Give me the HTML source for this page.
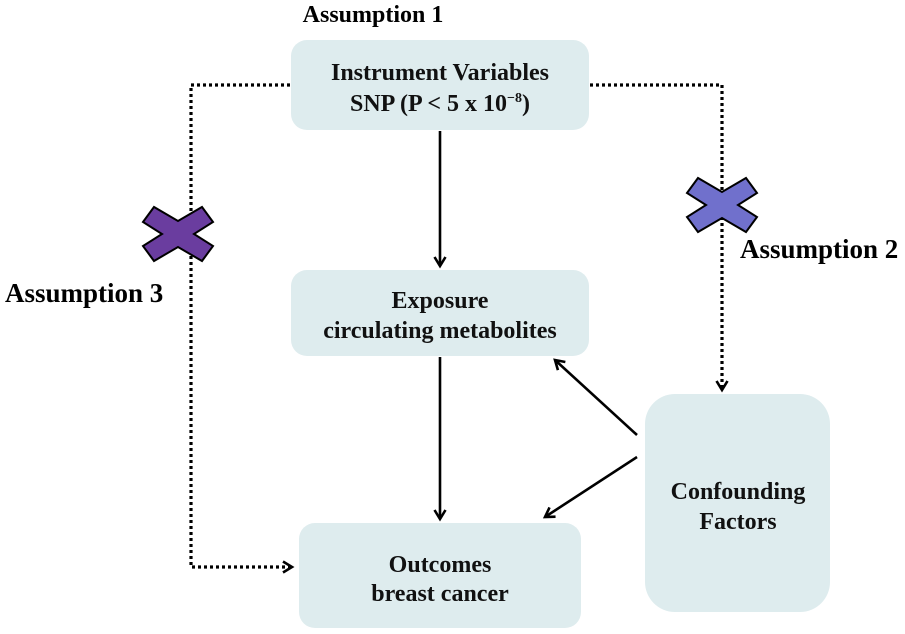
<!DOCTYPE html>
<html><head><meta charset="utf-8"><style>
html,body{margin:0;padding:0;background:#fff;}
svg{display:block;font-family:"Liberation Serif",serif;font-weight:bold;}
</style></head><body>
<svg width="905" height="634" viewBox="0 0 905 634" xmlns="http://www.w3.org/2000/svg">
<defs>
<marker id="a" markerWidth="14" markerHeight="14" refX="11" refY="7" orient="auto" markerUnits="userSpaceOnUse">
<path d="M2,1.5 L11,7 L2,12.5" fill="none" stroke="#000" stroke-width="2.6"/></marker>
</defs>
<rect x="291" y="40" width="298" height="90" rx="16" fill="#deecee"/>
<rect x="291" y="270" width="298" height="86" rx="16" fill="#deecee"/>
<rect x="299" y="523" width="282" height="105" rx="16" fill="#deecee"/>
<rect x="645" y="394" width="185" height="218" rx="30" fill="#deecee"/>

<g fill="#111" text-anchor="middle" font-size="24">
<text x="440" y="80">Instrument Variables</text>
<text x="440" y="111">SNP (P &lt; 5  x 10<tspan font-size="14" dy="-9">−8</tspan><tspan dy="9">)</tspan></text>
<text x="440" y="308">Exposure</text>
<text x="440" y="338">circulating metabolites</text>
<text x="440" y="572">Outcomes</text>
<text x="440" y="601">breast cancer</text>
<text x="738" y="499">Confounding</text>
<text x="738" y="529">Factors</text>
</g>
<g fill="#000">
<text x="373" y="22" font-size="24" text-anchor="middle">Assumption 1</text>
<text x="740" y="258" font-size="27">Assumption 2</text>
<text x="5" y="302" font-size="27">Assumption 3</text>
</g>

<g stroke="#000" stroke-width="2.6" fill="none">
<line x1="440" y1="131" x2="440" y2="266" marker-end="url(#a)"/>
<line x1="440" y1="357" x2="440" y2="519" marker-end="url(#a)"/>
<line x1="637" y1="435" x2="555" y2="360" marker-end="url(#a)"/>
<line x1="637" y1="457" x2="545" y2="517" marker-end="url(#a)"/>
</g>
<g stroke="#000" stroke-width="3.2" stroke-dasharray="3,3" fill="none">
<polyline points="290,85 191,85 191,567 292,567" marker-end="url(#a)"/>
<polyline points="590,85 722,85 722,390" marker-end="url(#a)"/>
</g>
<polygon transform="translate(178,234)" points="-35,-12 -24,-27 0,-13 24,-27 35,-12 16,0 35,12 24,27 0,13 -24,27 -35,12 -16,0" fill="#6a3d9f" stroke="#000" stroke-width="2"/>
<polygon transform="translate(722,205)" points="-35,-12 -24,-27 0,-13 24,-27 35,-12 16,0 35,12 24,27 0,13 -24,27 -35,12 -16,0" fill="#7070cc" stroke="#000" stroke-width="2"/>
</svg>
</body></html>
